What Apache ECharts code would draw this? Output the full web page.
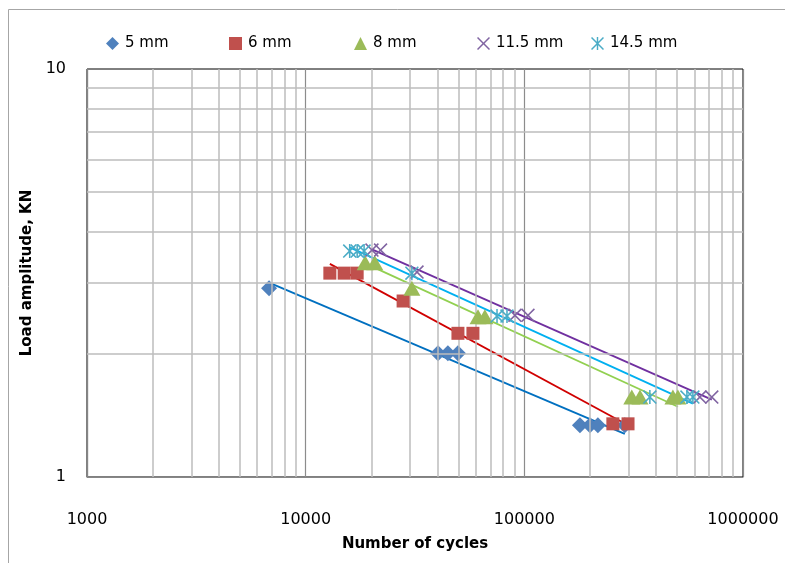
<!DOCTYPE html>
<html>
<head>
<meta charset="utf-8">
<title>Load amplitude vs number of cycles</title>
<script src="https://cdn.jsdelivr.net/npm/echarts@6/dist/echarts.min.js"></script>
<style>
  html, body { margin: 0; padding: 0; background: #fff; }
  #chart { width: 785px; height: 563px; }
</style>
</head>
<body>
<div id="chart"></div>
<script>
// Fatigue test results: load amplitude (kN) against cycles to failure, per specimen size
const seriesNames = ['5 mm', '6 mm', '8 mm', '11.5 mm', '14.5 mm'];

const cycles5 = [6800, 40300, 44700, 49700, 179600, 199500, 217000, 288000];
const load5   = [2.9, 2.01, 2.01, 2.01, 1.34, 1.34, 1.34, 1.34];

const cycles6 = [12900, 15000, 17200, 27900, 49700, 58200, 254000, 298000];
const load6   = [3.16, 3.16, 3.16, 2.7, 2.25, 2.25, 1.35, 1.35];

const cycles8 = [18700, 20700, 30600, 61400, 66000, 310000, 338000, 478000, 504000];
const load8   = [3.35, 3.35, 2.9, 2.47, 2.47, 1.57, 1.57, 1.57, 1.57];

const cycles11 = [20100, 22000, 32300, 90600, 103900, 635000, 720000];
const load11   = [3.6, 3.6, 3.18, 2.49, 2.49, 1.57, 1.57];

const cycles14 = [15900, 17200, 18500, 30600, 75000, 83300, 375000, 554000, 590000];
const load14   = [3.58, 3.58, 3.58, 3.16, 2.48, 2.48, 1.57, 1.57, 1.57];

// Axis ticks and minor gridline positions
const xTicks = [1000, 10000, 100000, 1000000];
const yTicks = [1, 10];
const xMinor = [2000, 3000, 4000, 5000, 6000, 7000, 8000, 9000,
                20000, 30000, 40000, 50000, 60000, 70000, 80000, 90000,
                200000, 300000, 400000, 500000, 600000, 700000, 800000, 900000];
const yMinor = [2, 3, 4, 5, 6, 7, 8, 9];

const markerColors = ['#4F81BD', '#C0504D', '#9BBB59', '#8064A2', '#4BACC6'];
const trendColors  = ['#0070C0', '#D00000', '#92D050', '#7030A0', '#00B0F0'];

const FONT = 'DejaVu Sans';

// Thin X and star (X with vertical bar) marker outlines
const xPath = 'path://M0,0.8L0.8,0L5,4.2L9.2,0L10,0.8L5.8,5L10,9.2L9.2,10L5,5.8L0.8,10L0,9.2L4.2,5Z';
const starPath = 'path://M0,0.8L0.8,0L5,4.2L9.2,0L10,0.8L5.8,5L10,9.2L9.2,10L5,5.8L0.8,10L0,9.2L4.2,5Z' +
                 'M4.45,0L5.55,0L5.55,10L4.45,10Z';

const symbols = ['diamond', 'rect', 'triangle', xPath, starPath];
const symbolSizes = [[16, 16], [13, 13], [17, 15], [14, 14], [14, 14]];
const legendLeft = [101, 224, 349, 472, 586];

const groups = [
  [cycles5, load5], [cycles6, load6], [cycles8, load8], [cycles11, load11], [cycles14, load14]
];

// Power-law trendline (least squares in log-log space), spanning the data range
function powerTrend(xs, ys) {
  const lx = xs.map(Math.log), ly = ys.map(Math.log);
  const n = xs.length;
  const mx = lx.reduce((a, b) => a + b, 0) / n;
  const my = ly.reduce((a, b) => a + b, 0) / n;
  let sxy = 0, sxx = 0;
  for (let i = 0; i < n; i++) {
    sxy += (lx[i] - mx) * (ly[i] - my);
    sxx += (lx[i] - mx) * (lx[i] - mx);
  }
  const b = sxy / sxx, a = my - b * mx;
  const x0 = Math.min(...xs), x1 = Math.max(...xs);
  return [[x0, Math.exp(a + b * Math.log(x0))], [x1, Math.exp(a + b * Math.log(x1))]];
}

const series = [];

// Minor gridlines, placed through the axes' own log scales
series.push({
  type: 'line',
  name: 'minor-grid',
  data: [],
  silent: true,
  z: 1,
  markLine: {
    silent: true,
    symbol: ['none', 'none'],
    label: { show: false },
    lineStyle: { color: '#bdbdbd', width: 1.5, type: 'solid' },
    emphasis: { disabled: true },
    animation: false,
    data: xMinor.map(v => ({ xAxis: v })).concat(yMinor.map(v => ({ yAxis: v })))
  }
});

groups.forEach(([xs, ys], i) => {
  series.push({
    type: 'line',
    name: 'trend ' + seriesNames[i],
    data: powerTrend(xs, ys),
    showSymbol: false,
    symbol: 'none',
    silent: true,
    z: 3,
    lineStyle: { color: trendColors[i], width: 1.8 }
  });
});

groups.forEach(([xs, ys], i) => {
  series.push({
    type: 'scatter',
    name: seriesNames[i],
    data: xs.map((x, k) => [x, ys[k]]),
    symbol: symbols[i],
    symbolSize: symbolSizes[i],
    z: 4 + i,
    itemStyle: { color: markerColors[i], opacity: 1 }
  });
});

const legends = seriesNames.map((name, i) => ({
  data: [name],
  left: legendLeft[i],
  top: 31,
  itemWidth: 13,
  itemHeight: 13,
  itemGap: 0,
  selectedMode: false,
  textStyle: { fontFamily: FONT, fontSize: 15, color: '#000', padding: [0, 0, 0, 1] }
}));

const chart = echarts.init(document.getElementById('chart'), null, { renderer: 'canvas' });

chart.setOption({
  animation: false,
  backgroundColor: '#fff',
  textStyle: { fontFamily: FONT },
  graphic: [{
    type: 'rect',
    shape: { x: 8.5, y: 9.5, width: 900, height: 700 },
    style: { fill: 'none', stroke: '#a6a6a6', lineWidth: 1 },
    silent: true,
    z: -10
  }],
  legend: legends,
  grid: {
    left: 87, top: 69, right: 42, bottom: 86,
    show: true, borderColor: '#000', borderWidth: 1, backgroundColor: 'transparent'
  },
  xAxis: {
    type: 'log',
    logBase: 10,
    min: 1000,
    max: 1000000,
    name: 'Number of cycles',
    nameLocation: 'middle',
    nameGap: 60,
    nameTextStyle: { fontFamily: FONT, fontSize: 15, fontWeight: 'bold', color: '#000' },
    axisLine: { show: true, lineStyle: { color: '#868686', width: 1 } },
    axisTick: { show: false },
    axisLabel: {
      margin: 35,
      fontFamily: FONT, fontSize: 16, color: '#000',
      formatter: v => { const r = Math.round(v); return xTicks.includes(r) ? String(r) : ''; }
    },
    splitLine: { show: true, lineStyle: { color: '#8c8c8c', width: 1.2 } },
    minorTick: { show: false },
    minorSplitLine: { show: false }
  },
  yAxis: {
    type: 'log',
    logBase: 10,
    min: 1,
    max: 10,
    name: 'Load amplitude, KN',
    nameLocation: 'middle',
    nameGap: 41,
    nameTextStyle: { fontFamily: FONT, fontSize: 15, fontWeight: 'bold', color: '#000' },
    axisLine: { show: true, lineStyle: { color: '#868686', width: 1 } },
    axisTick: { show: false },
    axisLabel: {
      margin: 21,
      fontFamily: FONT, fontSize: 16, color: '#000',
      formatter: v => { const r = Math.round(v); return yTicks.includes(r) ? String(r) : ''; }
    },
    splitLine: { show: false },
    minorTick: { show: false },
    minorSplitLine: { show: false }
  },
  series: series
});
</script>
</body>
</html>
